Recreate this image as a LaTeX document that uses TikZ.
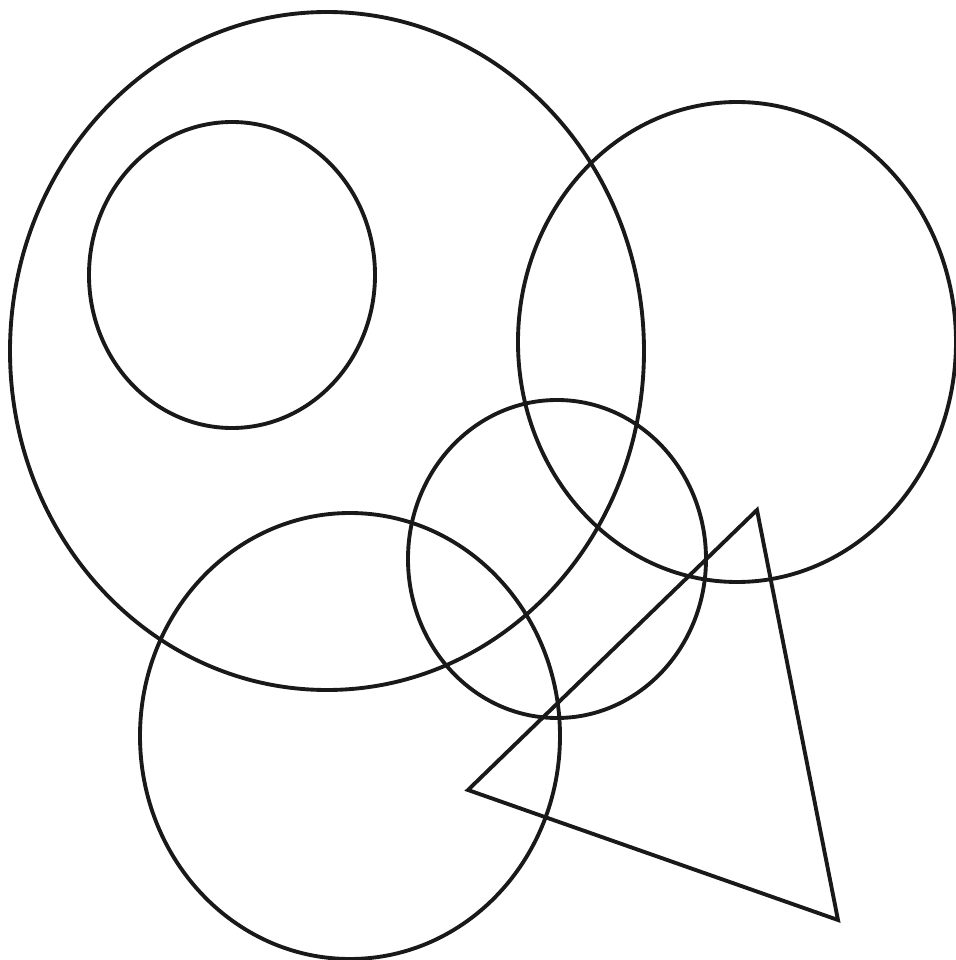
\documentclass[tikz,border=0pt]{standalone}
\usepackage{tikz}

\begin{document}
\begin{tikzpicture}[
  outline/.style={draw=black!90, line width=1.1pt},
  tri/.style={outline, line join=miter}
]
  \clip (0,0) rectangle (9.56,9.60);
  % circles
  \draw[outline] (3.27,6.09) ellipse [x radius=3.17, y radius=3.39];
  \draw[outline] (2.32,6.85) ellipse [x radius=1.43, y radius=1.53];
  \draw[outline] (7.37,6.18) ellipse [x radius=2.19, y radius=2.40];
  \draw[outline] (5.57,4.01) ellipse [x radius=1.49, y radius=1.59];
  \draw[outline] (3.50,2.24) ellipse [x radius=2.10, y radius=2.23];
  % triangle
  \coordinate (apex) at (7.57,4.50);
  \coordinate (left) at (4.68,1.70);
  \coordinate (foot) at (8.38,0.40);
  \draw[tri] (apex) -- (left) -- (foot) -- cycle;
\end{tikzpicture}
\end{document}
